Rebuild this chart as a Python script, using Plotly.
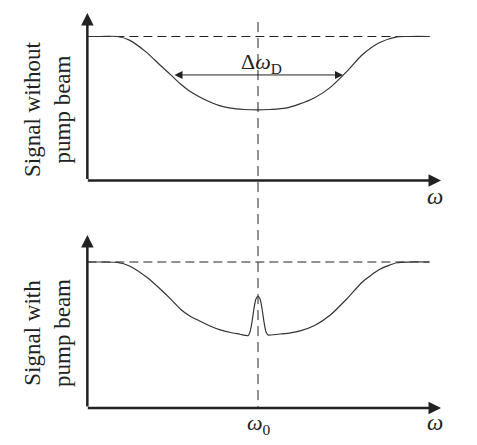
import plotly.graph_objects as go

# ---- data (frequency offset from w0 in units of the Doppler width; signal normalised to baseline) ----
top_w = [-1.00, -0.92, -0.82, -0.75, -0.65, -0.57, -0.51, -0.45, -0.40, -0.34, -0.28, -0.22, -0.16,
         -0.08, 0.00, 0.07, 0.16, 0.24, 0.33, 0.42, 0.52, 0.61, 0.71, 0.81, 0.89, 1.00]
top_signal = [1.00, 1.00, 1.00, 0.975, 0.89, 0.80, 0.735, 0.668, 0.622, 0.580, 0.545, 0.518, 0.502,
              0.493, 0.49, 0.493, 0.502, 0.53, 0.575, 0.645, 0.76, 0.875, 0.958, 0.997, 1.00, 1.00]

bot_w = [-1.00, -0.92, -0.82, -0.75, -0.65, -0.57, -0.51, -0.45, -0.40, -0.34, -0.28, -0.22, -0.16,
         -0.105, -0.076, -0.058, -0.047, -0.035, -0.023, -0.012, 0.00, 0.012, 0.023, 0.035, 0.047,
         0.058, 0.070, 0.13, 0.19, 0.245, 0.33, 0.42, 0.52, 0.61, 0.71, 0.81, 0.89, 1.00]
bot_signal = [1.00, 1.00, 0.997, 0.973, 0.897, 0.815, 0.747, 0.675, 0.632, 0.596, 0.562, 0.535, 0.517,
              0.505, 0.498, 0.495, 0.52, 0.589, 0.685, 0.747, 0.764, 0.747, 0.685, 0.589, 0.52,
              0.50, 0.50, 0.507, 0.515, 0.528, 0.565, 0.635, 0.75, 0.865, 0.95, 0.995, 1.00, 1.00]

baseline = 1.0
center_w = 0.0
doppler_half = 0.4956
half_level = 0.733

x_label = "<i>ω</i>"
x0_label = "<i>ω</i><sub>0</sub>"
dw_label = "Δ<i>ω</i><sub>D</sub>"
top_ylabel = "Signal without<br>pump beam"
bot_ylabel = "Signal with<br>pump beam"

# ---- layout constants ----
X_LEFT, X_RIGHT = -0.995, 1.067
SERIF = "Liberation Serif, Times New Roman, serif"
INK = "#222222"
CURVE = "#333333"

fig = go.Figure()
fig.add_trace(go.Scatter(x=top_w, y=top_signal, mode="lines", xaxis="x", yaxis="y",
                         line=dict(color=CURVE, width=1.2, shape="spline", smoothing=0.8),
                         hoverinfo="skip"))
fig.add_trace(go.Scatter(x=bot_w, y=bot_signal, mode="lines", xaxis="x", yaxis="y2",
                         line=dict(color=CURVE, width=1.2, shape="spline", smoothing=0.6),
                         hoverinfo="skip"))

shapes = []
# dashed baselines
shapes.append(dict(type="line", xref="x", yref="y", x0=X_LEFT, x1=1.0, y0=baseline, y1=baseline,
                   line=dict(color=INK, width=1, dash="9px,5px"), layer="below"))
shapes.append(dict(type="line", xref="x", yref="y2", x0=X_LEFT, x1=1.0, y0=baseline, y1=baseline,
                   line=dict(color=INK, width=1, dash="9px,5px"), layer="below"))
# vertical dashed line at w0 (spans both panels)
shapes.append(dict(type="line", xref="x", yref="y", x0=center_w, x1=center_w, y0=1.10, y1=-1.58,
                   line=dict(color=INK, width=1, dash="10px,6px"), layer="below"))
fig.update_layout(shapes=shapes)

ann = []
def arrow(x, y, ax, ay, yref, width=2.5, size=1.0, side="end"):
    ann.append(dict(x=x, y=y, ax=ax, ay=ay, xref="x", yref=yref, axref="x", ayref=yref,
                    text="", showarrow=True, arrowhead=2, arrowsize=size, arrowwidth=width,
                    arrowcolor=INK, arrowside=side, standoff=0, startstandoff=0))

# axes with arrows (top panel)
arrow(X_LEFT, 1.163, X_LEFT, 0.0, "y")
arrow(X_RIGHT, 0.0, X_LEFT - 0.006, 0.0, "y")
# axes with arrows (bottom panel)
arrow(X_LEFT, 1.185, X_LEFT, 0.0, "y2")
arrow(X_RIGHT, 0.0, X_LEFT - 0.006, 0.0, "y2")
# Doppler width double arrow
arrow(doppler_half, half_level, -doppler_half, half_level, "y", width=1, size=1.6, side="end+start")

def label(text, x, y, yref, size, angle=0):
    ann.append(dict(x=x, y=y, xref="x", yref=yref, text=text, showarrow=False,
                    textangle=angle, font=dict(family=SERIF, size=size, color=INK),
                    xanchor="center", yanchor="middle"))

label(dw_label, 0.0175, 0.815, "y", 22)
label(x_label, 1.032, -0.108, "y", 23)
label(x_label, 1.032, -0.096, "y2", 23)
label(x0_label, 0.006, -0.11, "y2", 22)
label(top_ylabel, -1.2245, 0.497, "y", 23, angle=-90)
label(bot_ylabel, -1.2245, 0.514, "y2", 23, angle=-90)

# ranges compensate for the 8px page margin around the plot div
fig.update_layout(
    annotations=ann,
    width=477, height=445,
    margin=dict(l=0, r=0, t=0, b=0),
    paper_bgcolor="white", plot_bgcolor="white",
    showlegend=False,
    xaxis=dict(range=[-1.4577, 1.3236], visible=False, fixedrange=True),
    yaxis=dict(range=[-1.8924, 1.1979], visible=False, fixedrange=True, domain=[0, 1]),
    yaxis2=dict(range=[-0.3082, 2.7397], visible=False, fixedrange=True, overlaying="y", domain=[0, 1]),
)

fig.write_html("out.html", config={"displayModeBar": False})
